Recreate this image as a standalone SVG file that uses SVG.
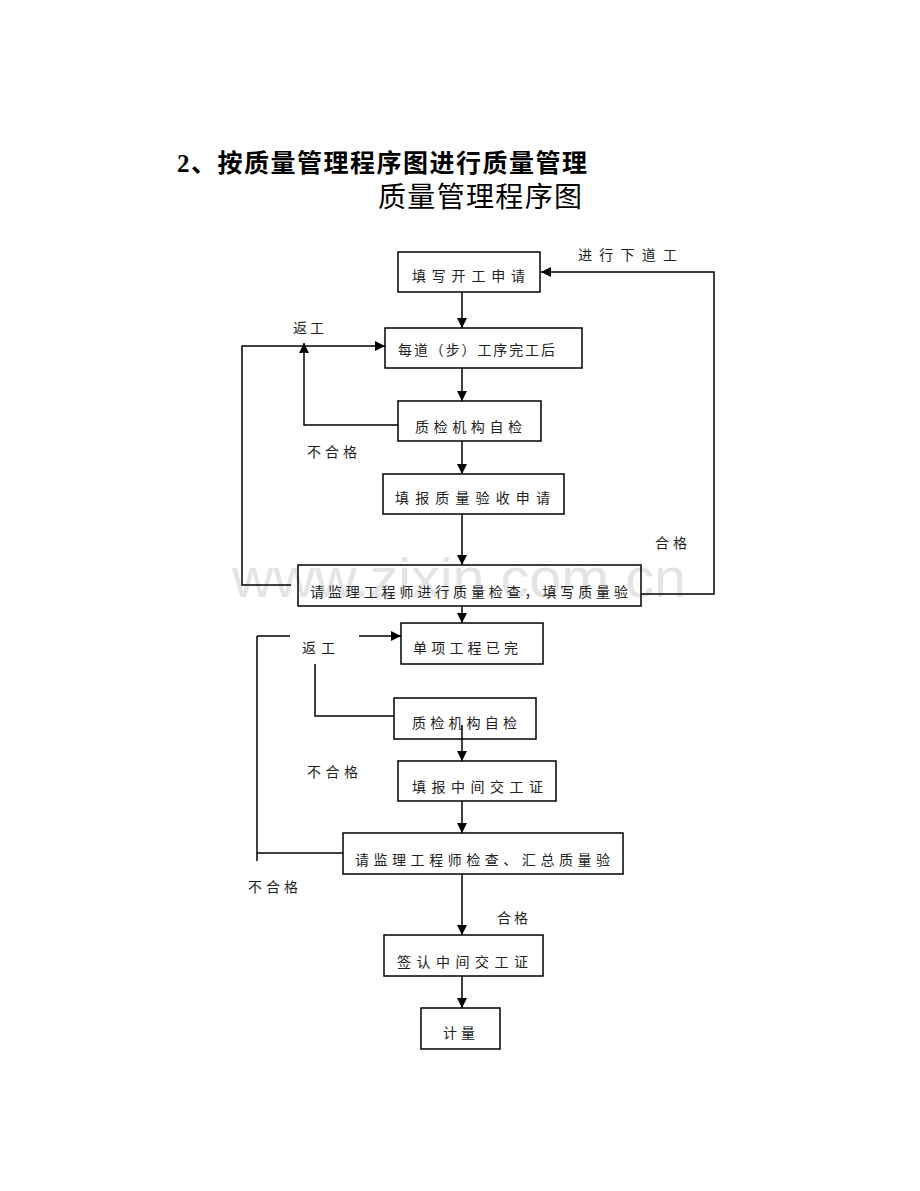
<svg xmlns="http://www.w3.org/2000/svg" width="920" height="1191" viewBox="0 0 920 1191">
<defs>
<marker id="ah" viewBox="0 0 10 10" refX="10" refY="5" markerWidth="10" markerHeight="10" markerUnits="userSpaceOnUse" orient="auto">
<path d="M0,0 L10,5 L0,10 z" fill="#000"/>
</marker>
<style>
.t{font-family:"Noto Sans CJK SC","Noto Sans CJK JP",sans-serif;font-size:14px;fill:#222}
.box{fill:none;stroke:#000;stroke-width:1.5}
.ln{fill:none;stroke:#000;stroke-width:1.5}
.ar{fill:none;stroke:#000;stroke-width:1.5;marker-end:url(#ah)}
.wm{font-family:"Liberation Sans",Arial,sans-serif;font-size:56px;fill:#e4e4e4}
</style>
</defs>
<rect width="920" height="1191" fill="#fff"/>
<text class="wm" x="232" y="597" textLength="454" lengthAdjust="spacingAndGlyphs">www.zixin.com.cn</text>
<text x="177" y="172" font-family="'Liberation Serif','Noto Sans CJK SC',serif" font-weight="bold" font-size="25" fill="#000" textLength="410" lengthAdjust="spacing">2、按质量管理程序图进行质量管理</text>
<text x="378" y="207" font-family="'Noto Sans CJK SC',sans-serif" font-size="28" fill="#000" textLength="204" lengthAdjust="spacing">质量管理程序图</text>

<g id="connectors">
<line class="ar" x1="462" y1="292" x2="462" y2="328"/>
<line class="ar" x1="462" y1="368" x2="462" y2="401"/>
<line class="ar" x1="462" y1="441" x2="462" y2="474"/>
<line class="ar" x1="462" y1="514" x2="462" y2="565"/>
<line class="ar" x1="462" y1="606" x2="462" y2="623"/>
<line class="ar" x1="462" y1="725" x2="462" y2="761"/>
<line class="ar" x1="462" y1="801" x2="462" y2="833"/>
<line class="ar" x1="462" y1="874" x2="462" y2="935"/>
<line class="ar" x1="462" y1="976" x2="462" y2="1008"/>
<polyline class="ar" points="398,425 304,425 304,343"/>
<polyline class="ar" points="291,585 242,585 242,346 385,346"/>
<polyline class="ar" points="641,594 714,594 714,272 541,272"/>
<line class="ln" x1="257" y1="636" x2="290" y2="636"/>
<line class="ar" x1="359" y1="636" x2="401" y2="636"/>
<polyline class="ln" points="343,853 257,853"/>
<line class="ln" x1="257" y1="636" x2="257" y2="861"/>
<polyline class="ln" points="315,664 315,716 394,716"/>
</g>

<g id="n1"><rect class="box" x="398" y="252" width="142" height="40"/><text class="t" x="412" y="281" textLength="113" lengthAdjust="spacing">填写开工申请</text></g>
<g id="n2"><rect class="box" x="385" y="328" width="197" height="40"/><text class="t" x="398" y="355" textLength="157" lengthAdjust="spacing">每道（步）工序完工后</text></g>
<g id="n3"><rect class="box" x="398" y="401" width="143" height="40"/><text class="t" x="415" y="432" textLength="107" lengthAdjust="spacing">质检机构自检</text></g>
<g id="n4"><rect class="box" x="383" y="474" width="181" height="40"/><text class="t" x="395" y="503" textLength="155" lengthAdjust="spacing">填报质量验收申请</text></g>
<g id="n5"><rect class="box" x="298" y="565" width="343" height="41"/><text class="t" x="310" y="597" textLength="318" lengthAdjust="spacing">请监理工程师进行质量检查，填写质量验</text></g>
<g id="n6"><rect class="box" x="401" y="623" width="142" height="41"/><text class="t" x="413" y="653" textLength="105" lengthAdjust="spacing">单项工程已完</text></g>
<g id="n7"><rect class="box" x="394" y="698" width="142" height="41"/><text class="t" x="412" y="728" textLength="105" lengthAdjust="spacing">质检机构自检</text></g>
<g id="n8"><rect class="box" x="398" y="761" width="158" height="40"/><text class="t" x="412" y="792" textLength="131" lengthAdjust="spacing">填报中间交工证</text></g>
<g id="n9"><rect class="box" x="343" y="833" width="280" height="41"/><text class="t" x="355" y="865" textLength="255" lengthAdjust="spacing">请监理工程师检查、汇总质量验</text></g>
<g id="n10"><rect class="box" x="384" y="935" width="159" height="41"/><text class="t" x="397" y="967" textLength="131" lengthAdjust="spacing">签认中间交工证</text></g>
<g id="n11"><rect class="box" x="421" y="1008" width="79" height="41"/><text class="t" x="443" y="1038" textLength="32" lengthAdjust="spacing">计量</text></g>

<g id="labels">
<text class="t" x="578" y="260" textLength="99" lengthAdjust="spacing">进行下道工</text>
<text class="t" x="293" y="333" textLength="31" lengthAdjust="spacing">返工</text>
<text class="t" x="307" y="457" textLength="50" lengthAdjust="spacing">不合格</text>
<text class="t" x="655" y="548" textLength="32" lengthAdjust="spacing">合格</text>
<text class="t" x="302" y="653" textLength="33" lengthAdjust="spacing">返工</text>
<text class="t" x="307" y="777" textLength="51" lengthAdjust="spacing">不合格</text>
<text class="t" x="248" y="892" textLength="50" lengthAdjust="spacing">不合格</text>
<text class="t" x="497" y="923" textLength="31" lengthAdjust="spacing">合格</text>
</g>
</svg>
